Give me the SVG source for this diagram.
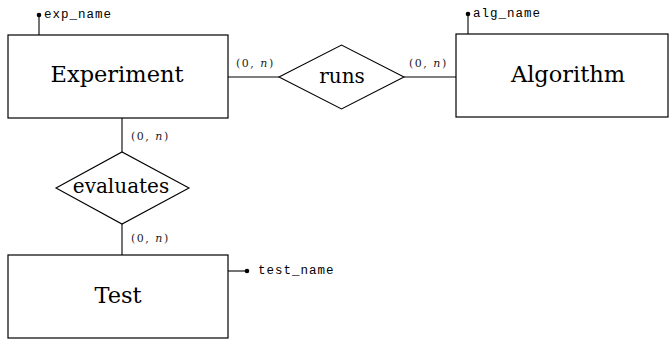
<svg xmlns="http://www.w3.org/2000/svg" width="669" height="340" viewBox="0 0 669 340">
  <style>
    .box { fill: #fff; stroke: #000; stroke-width: 1.2; }
    .rel { fill: #fff; stroke: #000; stroke-width: 1.1; }
    .ln { stroke: #000; stroke-width: 1.1; fill: none; }
    .dot { fill: #000; }
    .big { font-family: 'DejaVu Serif', 'Liberation Serif', serif; font-size: 22.5px; fill: #000; text-anchor: middle; }
    .mid { font-family: 'DejaVu Serif', 'Liberation Serif', serif; font-size: 20px; fill: #000; text-anchor: middle; }
    .attr { font-family: 'Liberation Mono', 'DejaVu Sans Mono', monospace; font-size: 12.5px; fill: #000; letter-spacing: 1px; }
    .card { font-family: 'DejaVu Serif', 'Liberation Serif', serif; font-size: 11px; fill: #222; letter-spacing: 1.5px; }
  </style>

  <g id="connectors">
    <line class="ln" x1="228" y1="77" x2="279" y2="77"/>
    <line class="ln" x1="404" y1="77" x2="456" y2="77"/>
    <line class="ln" x1="122" y1="118" x2="122" y2="152"/>
    <line class="ln" x1="122" y1="224" x2="122" y2="255"/>
    <text class="card" x="236" y="67">(0, <tspan font-style="italic">n</tspan>)</text>
    <text class="card" x="409" y="67">(0, <tspan font-style="italic">n</tspan>)</text>
    <text class="card" x="131" y="140">(0, <tspan font-style="italic">n</tspan>)</text>
    <text class="card" x="131" y="242">(0, <tspan font-style="italic">n</tspan>)</text>
  </g>

  <g id="experiment">
    <rect class="box" x="8" y="35" width="220" height="83"/>
    <text class="big" x="117" y="82">Experiment</text>
    <line class="ln" x1="39" y1="35" x2="39" y2="15"/>
    <circle class="dot" cx="39" cy="15" r="2.3"/>
    <text class="attr" x="44" y="18">exp_name</text>
  </g>

  <g id="algorithm">
    <rect class="box" x="456" y="34" width="212" height="83"/>
    <text class="big" x="568" y="82">Algorithm</text>
    <line class="ln" x1="468" y1="34" x2="468" y2="14"/>
    <circle class="dot" cx="468" cy="14" r="2.3"/>
    <text class="attr" x="473" y="17">alg_name</text>
  </g>

  <g id="runs">
    <polygon class="rel" points="279,77 341.5,45 404,77 341.5,109"/>
    <text class="mid" x="342" y="83">runs</text>
  </g>

  <g id="evaluates">
    <polygon class="rel" points="56,188 122,152 189,188 122,224"/>
    <text class="mid" x="121" y="193">evaluates</text>
  </g>

  <g id="test">
    <rect class="box" x="8" y="255" width="220" height="83"/>
    <text class="big" x="118" y="303">Test</text>
    <line class="ln" x1="228" y1="271" x2="247" y2="271"/>
    <circle class="dot" cx="247" cy="271" r="2.3"/>
    <text class="attr" x="258" y="274">test_name</text>
  </g>
</svg>
